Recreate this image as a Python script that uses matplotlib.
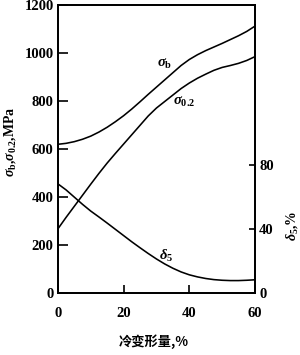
import matplotlib
matplotlib.use("Agg")
import matplotlib.pyplot as plt

plt.rcParams['font.family'] = ['Liberation Serif', 'Noto Sans CJK SC']
plt.rcParams['font.weight'] = 'bold'
plt.rcParams['mathtext.fontset'] = 'custom'
plt.rcParams['mathtext.rm'] = 'Liberation Serif:bold'
plt.rcParams['mathtext.it'] = 'Liberation Serif:italic:bold'
plt.rcParams['mathtext.bf'] = 'Liberation Serif:bold'

deform = [0, 2.5, 5, 7.5, 10, 12.5, 15, 17.5, 20, 22.5, 25, 27.5, 30,
          32.5, 35, 37.5, 40, 42.5, 45, 47.5, 50, 52.5, 55, 57.5, 60]
sigma_b = [620, 624, 631, 641, 654, 671, 691, 714, 739, 767, 797, 828, 858,
           888, 918, 948, 973, 993, 1010, 1025, 1040, 1056, 1072, 1090, 1112]
sigma_02 = [268, 316, 362, 408, 454, 499, 542, 582, 621, 660, 699, 738, 771,
            798, 825, 852, 875, 895, 912, 928, 940, 948, 957, 969, 985]
delta5 = [68.3, 64.5, 60, 55.5, 51.3, 47.6, 43.8, 39.9, 36, 32.1, 28.4, 24.8, 21.4,
          18.3, 15.6, 13.3, 11.5, 10.2, 9.2, 8.5, 8.1, 7.9, 7.9, 8.1, 8.4]

left_ticks = [0, 200, 400, 600, 800, 1000, 1200]
right_ticks = [0, 40, 80]
x_ticks = [0, 20, 40, 60]

fig = plt.figure(figsize=(3.0, 3.55), dpi=100)
ax = fig.add_axes([0.193, 0.174, 0.657, 0.812])
ax2 = ax.twinx()

lw = 1.15
ax.plot(deform, sigma_b, color='black', lw=lw)
ax.plot(deform, sigma_02, color='black', lw=lw)
ax2.plot(deform, delta5, color='black', lw=lw)

ax.set_xlim(0, 60)
ax.set_ylim(0, 1200)
ax2.set_ylim(0, 180)
ax.set_xticks(x_ticks)
ax.set_yticks(left_ticks)
ax2.set_yticks(right_ticks)

for a in (ax, ax2):
    for s in a.spines.values():
        s.set_linewidth(1.3)

ax.tick_params(axis='y', direction='in', length=7, width=1.2, labelsize=10.5, pad=3)
ax.tick_params(axis='x', direction='in', length=6, width=1.2, labelsize=10.5, pad=10)
ax2.tick_params(axis='y', direction='in', length=4.5, width=1.2, labelsize=10.5, pad=3)
for lab in ax.get_xticklabels() + ax.get_yticklabels() + ax2.get_yticklabels():
    lab.set_fontweight('bold')

fig.text(0.035, 0.60, r'$\sigma_{\rm b}$,$\sigma_{\rm 0.2}$,MPa', fontsize=10,
         rotation=90, ha='center', va='center')
fig.text(0.975, 0.365, r'$\delta_{\rm 5}$,%', fontsize=10,
         rotation=90, ha='center', va='center')
fig.text(0.513, 0.037, '冷变形量,%', fontsize=9.5, fontweight='bold',
         ha='center', va='center', family=['Noto Sans CJK SC', 'Liberation Serif'])

ax.text(32.5, 955, r'$\sigma_{\rm b}$', fontsize=10.5, ha='center', va='center')
ax.text(38.5, 797, r'$\sigma_{\rm 0.2}$', fontsize=10.5, ha='center', va='center')
ax2.text(33, 23, r'$\delta_{\rm 5}$', fontsize=10.5, ha='center', va='center')

fig.savefig('out.png', dpi=100)
